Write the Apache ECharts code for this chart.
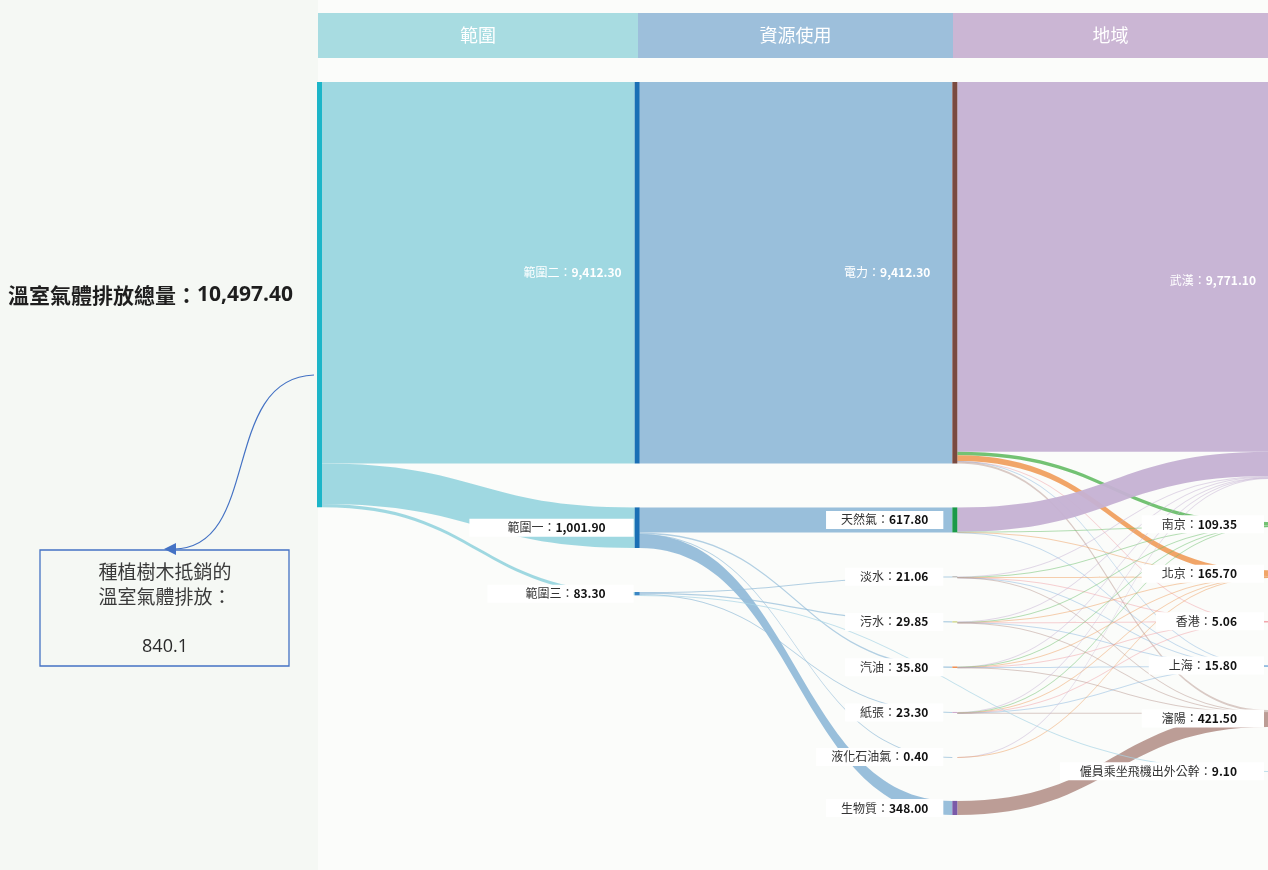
<!DOCTYPE html>
<html>
<head>
<meta charset="utf-8">
<script src="https://cdn.jsdelivr.net/npm/echarts@6/dist/echarts.min.js"></script>
<style>
html,body{margin:0;padding:0;background:#f5f8f4;}
#chart{width:1268px;height:870px;}
</style>
</head>
<body>
<div id="chart"></div>
<script>
// ---------- DATA ----------
const headerLabels = ['範圍', '資源使用', '地域'];
const totalName = '溫室氣體排放總量';
const totalValue = 10497.40;
const scopeNames = ['範圍二', '範圍一', '範圍三'];
const scopeValues = [9412.30, 1001.90, 83.30];
const resourceNames = ['電力', '天然氣', '淡水', '污水', '汽油', '紙張', '液化石油氣', '生物質'];
const resourceValues = [9412.30, 617.80, 21.06, 29.85, 35.80, 23.30, 0.40, 348.00];
const resourceScope = ['範圍二', '範圍一', '範圍三', '範圍三', '範圍一', '範圍三', '範圍一', '範圍一'];
const regionNames = ['武漢', '南京', '北京', '香港', '上海', '瀋陽', '僱員乘坐飛機出外公幹'];
const regionValues = [9771.10, 109.35, 165.70, 5.06, 15.80, 421.50, 9.10];
// flight travel comes straight from scope 3
const flightScope = '範圍三';
const flightValue = 9.10;
// resource -> region flows, columns: 武漢, 南京, 北京, 香港, 上海, 瀋陽 (estimated)
const flowsElectricity = [9122.30, 90.00, 140.00, 2.50, 8.00, 49.50];
const flowsNaturalGas  = [600.00, 6.00, 10.00, 0.00, 1.80, 0.00];
const flowsFreshWater  = [12.00, 3.00, 3.50, 0.50, 1.06, 1.00];
const flowsWastewater  = [17.00, 4.00, 4.50, 0.80, 1.55, 2.00];
const flowsPetrol      = [8.00, 3.50, 4.50, 0.50, 1.80, 17.50];
const flowsPaper       = [11.60, 2.85, 3.00, 0.76, 1.59, 3.50];
const flowsLPG         = [0.20, 0.00, 0.20, 0.00, 0.00, 0.00];
const flowsBiomass     = [0.00, 0.00, 0.00, 0.00, 0.00, 348.00];
const offsetText = ['種植樹木抵銷的', '溫室氣體排放：', '840.1'];

// ---------- STYLES ----------
const resourceFlows = [flowsElectricity, flowsNaturalGas, flowsFreshWater, flowsWastewater,
                       flowsPetrol, flowsPaper, flowsLPG, flowsBiomass];
const nodeColors = {
  '溫室氣體排放總量': '#1cb5c8',
  '範圍二': '#1a6fb5', '範圍一': '#1a6fb5', '範圍三': '#3a86c4',
  '電力': '#7a4a40', '天然氣': '#1a9a4a', '淡水': '#9a9a9a', '污水': '#c8d27a',
  '汽油': '#f08a4a', '紙張': '#c8a0c8', '液化石油氣': '#f4b09a', '生物質': '#7a5aa8',
  '武漢': '#c5b1d3', '南京': '#6cbf6c', '北京': '#f0a060', '香港': '#f2a2a8',
  '上海': '#8ab8e0', '瀋陽': '#b89890', '僱員乘坐飛機出外公幹': '#a8d4e6'
};
const regionLinkColors = {
  '武漢': '#c5b1d3', '南京': '#6cbf6c', '北京': '#f0a060', '香港': '#f2a2a8',
  '上海': '#8ab8e0', '瀋陽': '#b89890', '僱員乘坐飛機出外公幹': '#a8d4e6'
};

function fmt(v) {
  return v.toLocaleString('en-US', {minimumFractionDigits: 2, maximumFractionDigits: 2});
}

const smallRich = {
  n: {color: '#333', fontSize: 12, fontFamily: 'Noto Sans CJK TC'},
  v: {color: '#111', fontSize: 12, fontWeight: 'bold', fontFamily: 'Noto Sans CJK TC'}
};
const bigRich = {
  n: {color: '#fff', fontSize: 12, fontFamily: 'Noto Sans CJK TC'},
  v: {color: '#fff', fontSize: 12, fontWeight: 'bold', fontFamily: 'Noto Sans CJK TC'}
};
// per column: [big label distance, small label distance, small label padding]
const labelSpec = [
  null,
  {big: 13, small: 1, pad: [3, 28, 3, 38]},
  {big: 22, small: 9, pad: [3, 15, 3, 15]},
  {big: 14, small: 6, pad: [3, 27, 3, 20]}
];
function nodeLabel(col, big) {
  const s = labelSpec[col];
  if (big) {
    return {show: true, position: 'left', distance: s.big, rich: bigRich};
  }
  return {show: true, position: 'left', distance: s.small, rich: smallRich,
          backgroundColor: '#ffffff', padding: s.pad};
}

const nodes = [];
nodes.push({
  name: totalName, value: totalValue,
  itemStyle: {color: nodeColors[totalName]},
  label: {show: true, position: 'left', distance: 24,
    rich: {
      n: {color: '#1e1e1e', fontSize: 21, fontWeight: 'bold', fontFamily: 'Noto Sans CJK TC'},
      v: {color: '#1e1e1e', fontSize: 21, fontWeight: 'bold', fontFamily: 'Open Sans'}
    }}
});
scopeNames.forEach((n, i) => nodes.push({
  name: n, value: scopeValues[i], itemStyle: {color: nodeColors[n]},
  label: nodeLabel(1, scopeValues[i] > 5000)
}));
resourceNames.forEach((n, i) => nodes.push({
  name: n, value: resourceValues[i], itemStyle: {color: nodeColors[n]},
  label: nodeLabel(2, resourceValues[i] > 5000)
}));
regionNames.forEach((n, i) => nodes.push({
  name: n, value: regionValues[i], itemStyle: {color: nodeColors[n], opacity: 0.4},
  label: nodeLabel(3, regionValues[i] > 5000)
}));

const links = [];
scopeNames.forEach((n, i) => links.push({
  source: totalName, target: n, value: scopeValues[i],
  lineStyle: {color: '#9ad6df', opacity: 0.95}
}));
resourceNames.forEach((n, i) => links.push({
  source: resourceScope[i], target: n, value: resourceValues[i],
  lineStyle: {color: '#93bcd9', opacity: resourceValues[i] > 50 ? 0.95 : 0.7}
}));
resourceNames.forEach((r, i) => {
  resourceFlows[i].forEach((v, j) => {
    if (v > 0) {
      const t = regionNames[j];
      links.push({source: r, target: t, value: v,
        lineStyle: {color: regionLinkColors[t], opacity: v > 50 ? 0.95 : 0.5}});
    }
  });
});
links.push({source: flightScope, target: regionNames[6], value: flightValue,
  lineStyle: {color: '#a8d4e6', opacity: 0.7}});

const chart = echarts.init(document.getElementById('chart'), null, {renderer: 'canvas'});

const headerColors = ['#a8dce1', '#9dbfdb', '#cbb6d4'];
const headerX = [318, 638, 953, 1268];
const graphics = [
  {type: 'rect', z: 0, shape: {x: 318, y: 0, width: 950, height: 870}, style: {fill: '#fbfcfa'}}
];
headerLabels.forEach((t, i) => {
  graphics.push({type: 'rect', z: 1, shape: {x: headerX[i], y: 13, width: headerX[i + 1] - headerX[i], height: 45},
    style: {fill: headerColors[i]}});
  graphics.push({type: 'text', z: 2, x: (headerX[i] + headerX[i + 1]) / 2, y: 35,
    style: {text: t, fill: '#ffffff', font: '18px "Noto Sans CJK TC"', align: 'center', verticalAlign: 'middle'}});
});
// annotation box
graphics.push({type: 'rect', z: 1, shape: {x: 40, y: 550, width: 249, height: 116},
  style: {fill: 'rgba(0,0,0,0)', stroke: '#4472c4', lineWidth: 1.3}});
graphics.push({type: 'text', z: 2, x: 165, y: 572,
  style: {text: offsetText[0], fill: '#3a3a3a', font: '19px "Noto Sans CJK TC"', align: 'center', verticalAlign: 'middle'}});
graphics.push({type: 'text', z: 2, x: 165, y: 597,
  style: {text: offsetText[1], fill: '#3a3a3a', font: '19px "Noto Sans CJK TC"', align: 'center', verticalAlign: 'middle'}});
graphics.push({type: 'text', z: 2, x: 165, y: 647,
  style: {text: offsetText[2], fill: '#2a2a2a', font: '18px "Open Sans"', align: 'center', verticalAlign: 'middle'}});
// curved arrow
graphics.push({type: 'bezierCurve', z: 3,
  shape: {x1: 314, y1: 375, cpx1: 220, cpy1: 378, cpx2: 262, cpy2: 548, x2: 174, y2: 549},
  style: {stroke: '#4472c4', lineWidth: 1.2, fill: null}});
graphics.push({type: 'polygon', z: 3,
  shape: {points: [[164, 549], [176, 543], [176, 555]]},
  style: {fill: '#4472c4'}});

chart.setOption({
  backgroundColor: '#f5f8f4',
  animation: false,
  graphic: graphics,
  series: [{
    type: 'sankey',
    left: 317, width: 958, top: 82, bottom: 55,
    nodeWidth: 5,
    nodeGap: 44,
    layoutIterations: 0,
    nodeAlign: 'justify',
    draggable: false,
    emphasis: {disabled: true},
    lineStyle: {curveness: 0.5},
    label: {
      formatter: function (p) {
        return '{n|' + p.name + '：}{v|' + fmt(p.value) + '}';
      }
    },
    data: nodes,
    links: links
  }]
});
</script>
</body>
</html>
